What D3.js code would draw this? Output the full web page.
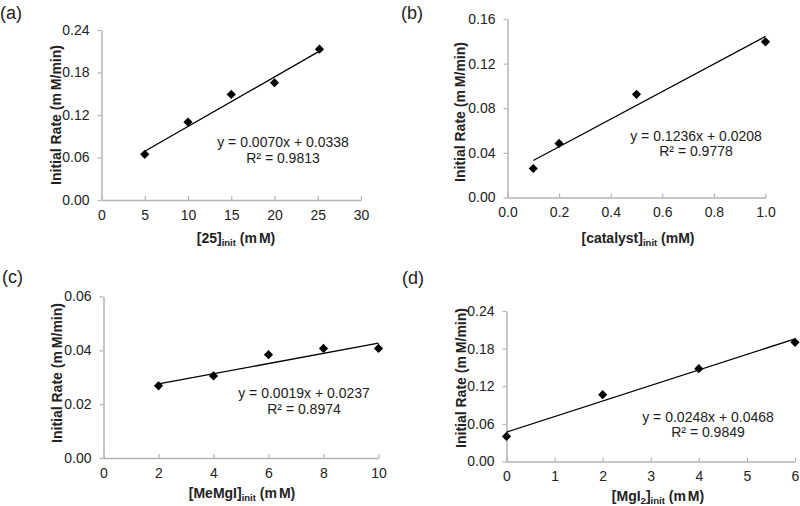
<!DOCTYPE html>
<html><head><meta charset="utf-8">
<script src="https://cdn.jsdelivr.net/npm/d3@7"></script>
<style>
body{margin:0;background:#fff;}
text{font-family:"Liberation Sans",Arial,sans-serif;}
</style></head>
<body><svg id="chart" width="800" height="506"></svg>
<script>
// ---- data ----
const xA = [5, 10, 15, 20, 25.2];
const yA = [0.0645, 0.110, 0.149, 0.1655, 0.213];
const xB = [0.1, 0.2, 0.5, 1.0];
const yB = [0.026, 0.0485, 0.0925, 0.1395];
const xC = [2, 4, 6, 8, 10];
const yC = [0.0268, 0.0305, 0.0384, 0.0407, 0.0407];
const xD = [0, 2, 4, 6];
const yD = [0.040, 0.1065, 0.148, 0.190];
const fitA = {m: 0.0070, b: 0.0338, r2: "0.9813"};
const fitB = {m: 0.1236, b: 0.0208, r2: "0.9778"};
const fitC = {m: 0.0019, b: 0.0237, r2: "0.8974"};
const fitD = {m: 0.0248, b: 0.0468, r2: "0.9849"};
const xTicksA = [0, 5, 10, 15, 20, 25, 30];
const yTicksA = [0, 0.06, 0.12, 0.18, 0.24];
const xTicksB = [0, 0.2, 0.4, 0.6, 0.8, 1.0];
const yTicksB = [0, 0.04, 0.08, 0.12, 0.16];
const xTicksC = [0, 2, 4, 6, 8, 10];
const yTicksC = [0, 0.02, 0.04, 0.06];
const xTicksD = [0, 1, 2, 3, 4, 5, 6];
const yTicksD = [0, 0.06, 0.12, 0.18, 0.24];

const svg = d3.select("#chart");
const axisColor = "#b4b4b4";
const FS = 14;

function panel(o) {
  const g = svg.append("g");
  const x = d3.scaleLinear().domain(o.xDom).range([o.left, o.right]);
  const y = d3.scaleLinear().domain(o.yDom).range([o.bottom, o.top]);
  // x axis (ticks inside)
  const xa = g.append("g").attr("transform", `translate(0,${o.bottom})`)
    .call(d3.axisBottom(x).tickValues(o.xTicks).tickFormat(o.xFmt).tickSize(0).tickPadding(10));
  xa.select(".domain").attr("stroke", axisColor).attr("stroke-width", 1.5);
  xa.selectAll(".tick line").attr("y2", -4).attr("stroke", axisColor).attr("stroke-width", 1.2);
  xa.selectAll(".tick text").attr("font-size", FS).attr("fill", "#222").attr("font-family", "Liberation Sans, Arial, sans-serif");
  // y axis (ticks outside)
  const ya = g.append("g").attr("transform", `translate(${o.left},0)`)
    .call(d3.axisLeft(y).tickValues(o.yTicks).tickFormat(d3.format(".2f")).tickSize(4).tickSizeOuter(0).tickPadding(8));
  ya.select(".domain").attr("stroke", axisColor).attr("stroke-width", 1.5);
  ya.selectAll(".tick line").attr("stroke", axisColor).attr("stroke-width", 1.2);
  ya.selectAll(".tick text").attr("font-size", FS).attr("fill", "#222").attr("font-family", "Liberation Sans, Arial, sans-serif");

  // fit line
  const x0 = d3.min(o.xs), x1 = d3.max(o.xs);
  g.append("line")
    .attr("x1", x(x0)).attr("y1", y(o.fit.m * x0 + o.fit.b))
    .attr("x2", x(x1)).attr("y2", y(o.fit.m * x1 + o.fit.b))
    .attr("stroke", "#000").attr("stroke-width", 1.3);
  // markers
  const diamond = "M0,-4.6L4.6,0L0,4.6L-4.6,0Z";
  g.selectAll("path.pt").data(o.xs.map((v, i) => [v, o.ys[i]])).join("path")
    .attr("class", "pt").attr("d", diamond)
    .attr("transform", d => `translate(${x(d[0])},${y(d[1])})`)
    .attr("fill", "#000");
  // equation
  const fmt = d3.format(".4f");
  g.append("text").attr("x", o.eqX).attr("y", o.eqY).attr("text-anchor", "middle")
    .attr("font-size", FS).attr("fill", "#222")
    .text(`y = ${fmt(o.fit.m)}x + ${fmt(o.fit.b)}`);
  g.append("text").attr("x", o.eqX).attr("y", o.eqY + 15.5).attr("text-anchor", "middle")
    .attr("font-size", FS).attr("fill", "#222")
    .text(`R² = ${o.fit.r2}`);
  // x title
  const xt = g.append("text").attr("x", o.xtX).attr("y", o.xtY).attr("text-anchor", "middle")
    .attr("font-size", FS).attr("font-weight", "bold").attr("fill", "#222");
  o.xTitle.forEach(p => {
    const t = xt.append("tspan").text(p.t);
    if (p.sub) t.attr("font-size", 9.5).attr("dy", 3);
    else if (p.after) t.attr("dy", -3);
    if (p.gap) t.attr("dx", p.gap);
  });
  // y title
  const yt = g.append("text").attr("transform", `translate(${o.ytX},${o.ytY}) rotate(-90)`)
    .attr("text-anchor", "middle").attr("font-size", FS).attr("font-weight", "bold").attr("fill", "#222");
  yt.append("tspan").text("Initial Rate (m");
  yt.append("tspan").attr("dx", 3).text("M/min)");
  // panel label
  g.append("text").attr("x", o.lblX).attr("y", o.lblY).attr("font-size", 18).attr("fill", "#222").text(o.label);
}

panel({xs: xA, ys: yA, fit: fitA, xDom: [0, 30], yDom: [0, 0.24], xTicks: xTicksA, yTicks: yTicksA,
  xFmt: d3.format("d"), left: 101.5, right: 361, top: 30, bottom: 200,
  eqX: 283, eqY: 147, xtX: 236, xtY: 243, ytX: 61, ytY: 115, lblX: 0, lblY: 19, label: "(a)",
  xTitle: [{t: "[25]"}, {t: "init", sub: true}, {t: " (m", after: true}, {t: "M)", gap: 2}]});
panel({xs: xB, ys: yB, fit: fitB, xDom: [0, 1], yDom: [0, 0.16], xTicks: xTicksB, yTicks: yTicksB,
  xFmt: d3.format(".1f"), left: 507.5, right: 765.5, top: 19, bottom: 197.5,
  eqX: 696, eqY: 140.5, xtX: 638, xtY: 243, ytX: 465, ytY: 112, lblX: 401, lblY: 19, label: "(b)",
  xTitle: [{t: "[catalyst]"}, {t: "init", sub: true}, {t: " (mM)", after: true}]});
panel({xs: xC, ys: yC, fit: fitC, xDom: [0, 10], yDom: [0, 0.06], xTicks: xTicksC, yTicks: yTicksC,
  xFmt: d3.format("d"), left: 103.5, right: 378.5, top: 296.5, bottom: 458,
  eqX: 304, eqY: 398, xtX: 242, xtY: 498, ytX: 62, ytY: 373, lblX: 2, lblY: 283, label: "(c)",
  xTitle: [{t: "[MeMgI]"}, {t: "init", sub: true}, {t: " (m", after: true}, {t: "M)", gap: 2}]});
panel({xs: xD, ys: yD, fit: fitD, xDom: [0, 6], yDom: [0, 0.24], xTicks: xTicksD, yTicks: yTicksD,
  xFmt: d3.format("d"), left: 506.5, right: 795, top: 311, bottom: 461.5,
  eqX: 708, eqY: 421.5, xtX: 658, xtY: 501, ytX: 466, ytY: 378, lblX: 402, lblY: 284, label: "(d)",
  xTitle: [{t: "[MgI"}, {t: "2", sub: true}, {t: "]", after: true}, {t: "init", sub: true}, {t: " (m", after: true}, {t: "M)", gap: 2}]});
</script></body></html>
